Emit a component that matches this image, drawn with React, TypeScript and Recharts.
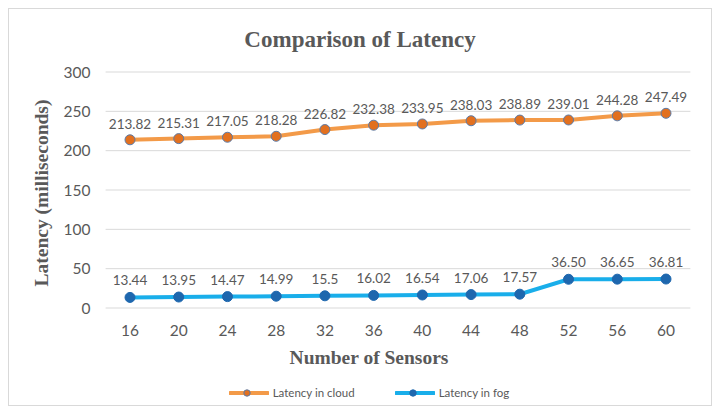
import { CartesianGrid, LabelList, Line, LineChart, XAxis, YAxis } from "recharts";

const sensors = [16, 20, 24, 28, 32, 36, 40, 44, 48, 52, 56, 60];
const cloudLatency = [213.82, 215.31, 217.05, 218.28, 226.82, 232.38, 233.95, 238.03, 238.89, 239.01, 244.28, 247.49];
const fogLatency = [13.44, 13.95, 14.47, 14.99, 15.5, 16.02, 16.54, 17.06, 17.57, 36.5, 36.65, 36.81];
const cloudLabels = ["213.82", "215.31", "217.05", "218.28", "226.82", "232.38", "233.95", "238.03", "238.89", "239.01", "244.28", "247.49"];
const fogLabels = ["13.44", "13.95", "14.47", "14.99", "15.5", "16.02", "16.54", "17.06", "17.57", "36.50", "36.65", "36.81"];
const yTicks = [0, 50, 100, 150, 200, 250, 300];

const data = sensors.map((s, i) => ({
  sensors: String(s),
  cloud: cloudLatency[i],
  fog: fogLatency[i],
  cloudLabel: cloudLabels[i],
  fogLabel: fogLabels[i],
}));

const textGray = "#595959";
const sans = "Lato, 'Open Sans', sans-serif";
const serif = "'Liberation Serif', 'DejaVu Serif', serif";

const cloudLine = "#F39A48";
const cloudDot = "#E2701F";
const fogLine = "#19AEEA";
const fogDot = "#1E67AE";

function LegendItem({ line, dot, stroke, label }: { line: string; dot: string; stroke: string; label: string }) {
  return (
    <div style={{ display: "flex", alignItems: "center", gap: 4 }}>
      <svg width={40} height={10}>
        <line x1={1} y1={5} x2={39} y2={5} stroke={line} strokeWidth={4} strokeLinecap="round" />
        <circle cx={18} cy={5} r={3.2} fill={dot} stroke={stroke} strokeWidth={1} />
      </svg>
      <span>{label}</span>
    </div>
  );
}

export default function App() {
  return (
    <div
      style={{
        position: "relative",
        width: 702,
        height: 396,
        border: "1px solid #D9D9D9",
        background: "#fff",
      }}
    >
      <div
        style={{
          position: "absolute",
          top: 19,
          left: 0,
          width: 702,
          textAlign: "center",
          fontFamily: serif,
          fontWeight: "bold",
          fontSize: 23,
          lineHeight: "24px",
          color: textGray,
        }}
      >
        Comparison of Latency
      </div>

      <LineChart width={702} height={396} data={data} margin={{ top: 63, right: 20.6, left: 0, bottom: 37 }}>
        <CartesianGrid vertical={false} stroke="#D9D9D9" strokeWidth={1} />
        <XAxis
          dataKey="sensors"
          height={60}
          axisLine={false}
          tickLine={false}
          tickMargin={11}
          padding={{ left: 24.4, right: 24.4 }}
          tick={{ fill: textGray, fontSize: 15.5, fontFamily: sans }}
        />
        <YAxis
          width={96.6}
          domain={[0, 300]}
          ticks={yTicks}
          axisLine={false}
          tickLine={false}
          tickMargin={9}
          tick={{ fill: textGray, fontSize: 15.5, fontFamily: sans }}
        />
        <Line
          dataKey="cloud"
          stroke={cloudLine}
          strokeWidth={4}
          dot={{ r: 5, fill: cloudDot, stroke: "#5B7BA8", strokeWidth: 1 }}
          activeDot={false}
          isAnimationActive={false}
        >
          <LabelList dataKey="cloudLabel" position="top" offset={11} fill={textGray} fontSize={13.5} fontFamily={sans} />
        </Line>
        <Line
          dataKey="fog"
          stroke={fogLine}
          strokeWidth={4}
          dot={{ r: 5, fill: fogDot, stroke: fogDot, strokeWidth: 1 }}
          activeDot={false}
          isAnimationActive={false}
        >
          <LabelList dataKey="fogLabel" position="top" offset={12} fill={textGray} fontSize={13.5} fontFamily={sans} />
        </Line>
      </LineChart>

      <div
        style={{
          position: "absolute",
          left: 33,
          top: 184,
          transform: "translate(-50%, -50%) rotate(-90deg)",
          whiteSpace: "nowrap",
          fontFamily: serif,
          fontWeight: "bold",
          fontSize: 19.5,
          color: textGray,
        }}
      >
        Latency (milliseconds)
      </div>

      <div
        style={{
          position: "absolute",
          left: 0,
          width: 720,
          top: 339,
          textAlign: "center",
          fontFamily: serif,
          fontWeight: "bold",
          fontSize: 19.5,
          lineHeight: "20px",
          color: textGray,
        }}
      >
        Number of Sensors
      </div>

      <div
        style={{
          position: "absolute",
          left: 0,
          width: 720,
          top: 377,
          display: "flex",
          justifyContent: "center",
          gap: 40,
          fontFamily: sans,
          fontSize: 11.5,
          color: textGray,
        }}
      >
        <LegendItem line={cloudLine} dot={cloudDot} stroke="#5B7BA8" label="Latency in cloud" />
        <LegendItem line={fogLine} dot={fogDot} stroke={fogDot} label="Latency in fog" />
      </div>
    </div>
  );
}
